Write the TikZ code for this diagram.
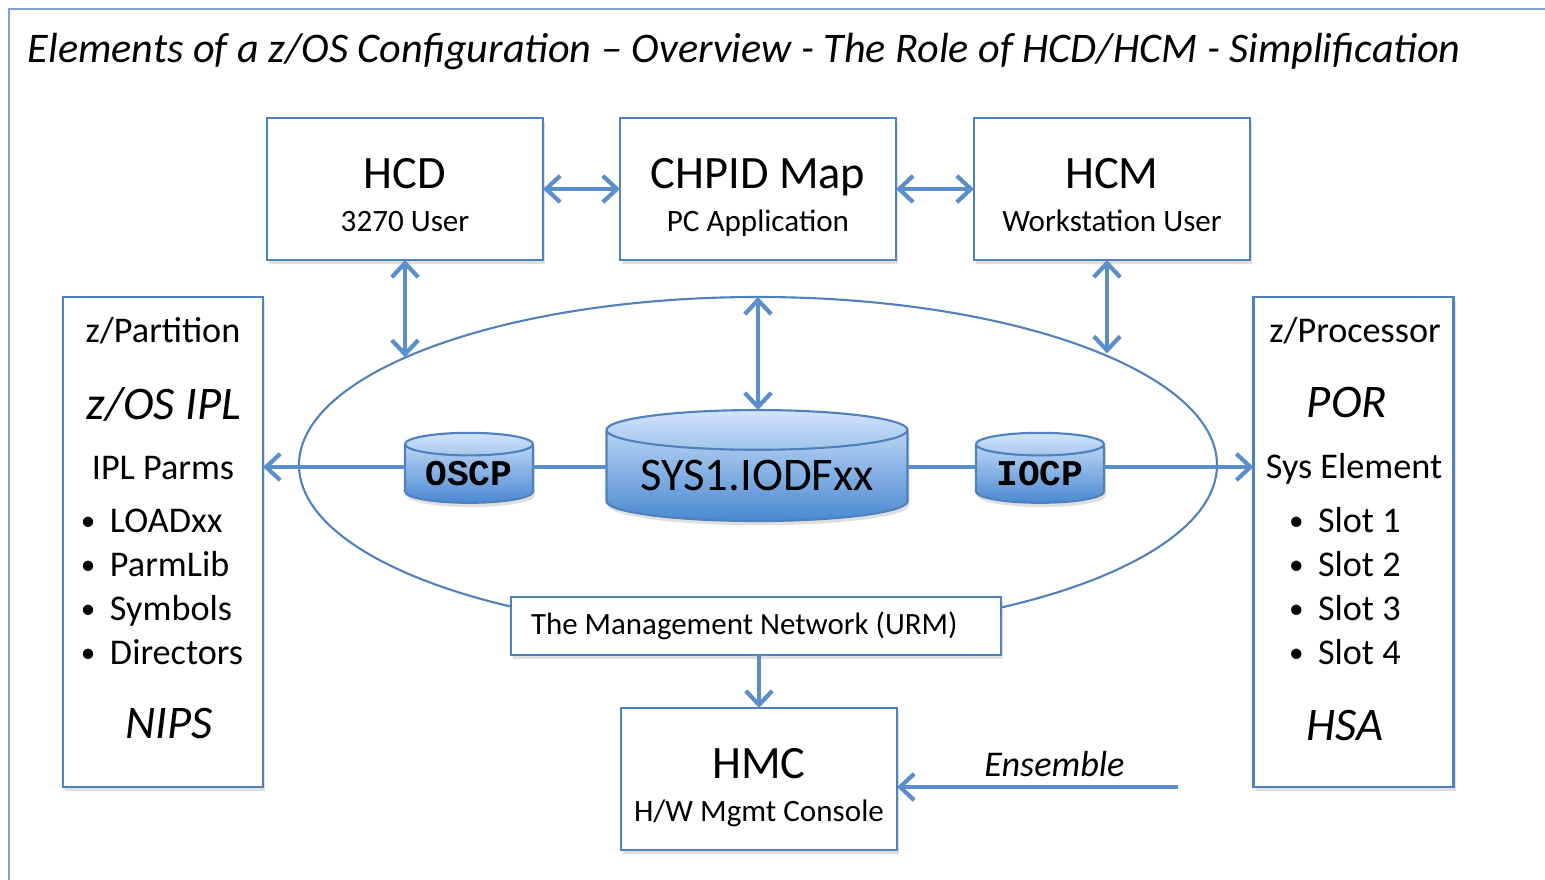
\documentclass[tikz,border=0pt]{standalone}
\usepackage{fontspec}
\setmainfont{Carlito}
\setmonofont{Liberation Mono}
\usetikzlibrary{shapes.geometric, arrows.meta, positioning, shadows}

\definecolor{boxline}{HTML}{4F81BD}
\definecolor{linkblue}{HTML}{5B8FCC}
\definecolor{frameblue}{HTML}{7DA3D4}
\definecolor{disktop}{HTML}{D2E4FA}
\definecolor{diskbot}{HTML}{4A89D2}

\newcommand{\subtxt}{\fontsize{8.85}{10}\selectfont}
\newcommand{\itm}{\makebox[2.9mm][l]{\raisebox{0.7pt}{\fontsize{8.3}{10}\selectfont•}}}
% head line over a smaller second line, kept at the same height in every box
\newcommand{\boxtext}[2]{\rule{0pt}{14.4pt}#1\\\subtxt #2\rule[-2.2pt]{0pt}{2.2pt}}

\begin{document}
\begin{tikzpicture}[
    x=0.1mm, y=-0.1mm,
    box/.style={rectangle, draw=boxline, line width=0.75pt, fill=white, align=center, inner sep=0pt,
        drop shadow={shadow xshift=0.7pt, shadow yshift=-1pt, opacity=0.25}},
    topbox/.style={box, minimum width=2.76cm, minimum height=1.42cm, font=\fontsize{13.2}{12.2}\selectfont},
    sidebox/.style={box, minimum width=2cm, minimum height=4.9cm},
    disk/.style={cylinder, shape border rotate=90, draw=boxline, line width=0.6pt,
        top color=disktop, bottom color=diskbot, inner sep=0pt,
        drop shadow={shadow xshift=0.5pt, shadow yshift=-1.2pt, opacity=0.25}},
    disklabel/.style={font=\fontsize{10.3}{12}\selectfont\ttfamily\bfseries},
    midtxt/.style={font=\fontsize{10.3}{12}\selectfont, inner sep=0pt, anchor=base},
    bigit/.style={font=\fontsize{13.3}{15}\selectfont\itshape, inner sep=0pt, anchor=base},
    item/.style={midtxt, anchor=base west},
    wire/.style={draw=linkblue, line width=1.2pt},
    >={Straight Barb[length=4pt, width=7.5pt]},
    every node/.append style={outer sep=0pt}
]
    \useasboundingbox (0,0) rectangle (1545,880);
    \draw[frameblue, line width=0.8pt] (9,880) -- (9,9) -- (1545,9);
    \node[anchor=base west, inner sep=0pt, font=\fontsize{12}{15}\selectfont\itshape] (title) at (28,63)
        {Elements of a z/OS Configuration – Overview - The Role of HCD/HCM - Simplification};

    % top row
    \node[topbox] (chpid) at (758,189) {\boxtext{CHPID Map}{PC Application}};
    \node[topbox, left=0.77cm of chpid] (hcd) {\boxtext{HCD}{3270 User}};
    \node[topbox, right=0.78cm of chpid] (hcm) {\boxtext{HCM}{Workstation User}};

    % the ring and the data sets
    \node[ellipse, draw=boxline, line width=0.6pt, minimum width=9.18cm, minimum height=3.36cm, inner sep=0pt] (ring) at (758,465) {};
    \coordinate (bus) at (758,467);
    \node[disk, minimum width=3.01cm, minimum height=1.11cm, aspect=0.17, font=\fontsize{13.3}{15}\selectfont] (sys1) at (757,476) {SYS1.IODFxx};
    \node[disk, disklabel, minimum width=1.28cm, minimum height=0.7cm, aspect=0.26] (oscp) at (469,474) {OSCP};
    \node[disk, disklabel, minimum width=1.28cm, minimum height=0.7cm, aspect=0.26] (iocp) at (1040,474) {IOCP};

    % side boxes
    \node[sidebox] (part) at (163,542) {};
    \node[midtxt] (parttitle) at (163,343) {z/Partition};
    \node[bigit] (zosipl) at (164,420) {z/OS IPL};
    \node[midtxt] (iplparms) at (163,480) {IPL Parms};
    \foreach \txt [count=\i] in {LOADxx, ParmLib, Symbols, Directors}
        \node[item] (pitem\i) at (81,{489+44*\i}) {\itm\txt};
    \node[bigit] (nips) at (169,739) {NIPS};

    \node[sidebox] (proc) at (1353.5,542) {};
    \node[midtxt] (proctitle) at (1355,343) {z/Processor};
    \node[bigit] (por) at (1347,418) {POR};
    \node[midtxt] (syselem) at (1354,479) {Sys Element};
    \foreach \i in {1,...,4}
        \node[item] (slot\i) at (1289,{489+44*\i}) {\itm Slot \i};
    \node[bigit] (hsa) at (1345,741) {HSA};

    % bottom
    \node[box, minimum width=4.87cm, minimum height=0.58cm, text width=4.5cm, align=flush left, inner xsep=0.2cm,
        font=\fontsize{8.8}{11}\selectfont] (urm) at (756,626) {The Management Network (URM)};
    \node[topbox, below=0.53cm of urm, xshift=0.03cm] (hmc) {\boxtext{HMC}{H/W Mgmt Console}};
    \coordinate (ens) at (1178,787);

    % connectors
    \draw[wire, <->] (hcd) -- (chpid);
    \draw[wire, <->] (chpid) -- (hcm);
    \draw[wire, <->] (hcd.south) -- (hcd.south |- ring.163);
    \draw[wire, <->] ([xshift=-0.05cm]hcm.south) -- ([xshift=-0.05cm]hcm.south |- ring.18);
    \draw[wire, <->] (ring.north) -- (ring.north |- sys1.north);
    \draw[wire] (oscp.east |- bus) -- (sys1.west |- bus);
    \draw[wire] (sys1.east |- bus) -- (iocp.west |- bus);
    \draw[wire, ->] (oscp.west |- bus) -- (part.east |- bus);
    \draw[wire, ->] (iocp.east |- bus) -- (proc.west |- bus);
    \draw[wire, ->] (hmc.north |- urm.south) -- (hmc.north);
    \draw[wire, ->] (ens) -- (ens -| hmc.east)
        node[pos=0.44, above=3pt, inner sep=0pt, font=\fontsize{10.3}{12}\selectfont\itshape] (enslabel) {Ensemble};
\end{tikzpicture}
\end{document}
